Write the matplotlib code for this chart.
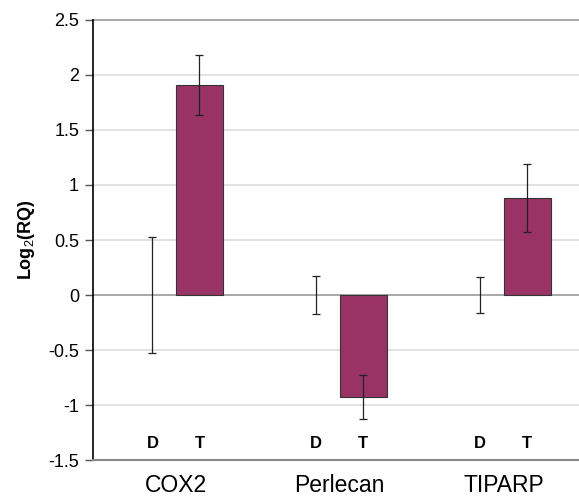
import numpy as np
import matplotlib
matplotlib.use("Agg")
import matplotlib.pyplot as plt

# ------------------------
# Datos
# ------------------------
genes = ["COX2", "Perlecan", "TIPARP"]
valores_d = [0.0, 0.0, 0.0]
errores_d = [0.53, 0.17, 0.16]
valores_t = [1.91, -0.93, 0.88]
errores_t = [0.27, 0.20, 0.31]
etiquetas_grupo = ["D", "T"]

yticks = [2.5, 2, 1.5, 1, 0.5, 0, -0.5, -1, -1.5]
ytick_labels = ["2.5", "2", "1.5", "1", "0.5", "0", "-0.5", "-1", "-1.5"]

ANCHO = 0.287
COLOR_BARRA = "#993366"

plt.rcParams['font.family'] = ['Liberation Sans', 'DejaVu Sans']
plt.rcParams['mathtext.fontset'] = 'custom'
plt.rcParams['mathtext.rm'] = 'Liberation Sans'
plt.rcParams['mathtext.bf'] = 'Liberation Sans:bold'

fig = plt.figure(figsize=(5.79, 4.97), dpi=100)
ax = fig.add_axes([0.1606, 0.0744, 0.8394, 0.8854])

x = np.arange(len(genes))
x_d = x - ANCHO / 2
x_t = x + ANCHO / 2

# rejilla
for y in yticks:
    if y in (0, 2.5):
        continue
    ax.axhline(y, color="#dddddd", lw=1.2, zorder=0)
ax.axhline(0, color="#999999", lw=1.2, zorder=1)
ax.axhline(2.5, color="#999999", lw=1.2, zorder=1, clip_on=False)

# barras D (altura cero, sin borde) y T
ax.bar(x_d, valores_d, width=ANCHO, color=COLOR_BARRA, lw=0, zorder=2)
ax.bar(x_t, valores_t, width=ANCHO, color=COLOR_BARRA, edgecolor="#333333", lw=0.8, zorder=2)
ax.errorbar(x_d, valores_d, yerr=errores_d, fmt="none", ecolor="#222222",
            elinewidth=0.9, capsize=3, capthick=0.9, zorder=3)
ax.errorbar(x_t, valores_t, yerr=errores_t, fmt="none", ecolor="#222222",
            elinewidth=0.9, capsize=3, capthick=0.9, zorder=3)

# etiquetas D / T
for i in range(len(genes)):
    ax.text(x_d[i], -1.35, etiquetas_grupo[0], ha="center", va="center",
            fontsize=12, fontweight="bold")
    ax.text(x_t[i], -1.35, etiquetas_grupo[1], ha="center", va="center",
            fontsize=12, fontweight="bold")

ax.set_xlim(-0.506, 2.46)
ax.set_ylim(-1.5, 2.5)
ax.set_yticks(yticks)
ax.set_yticklabels(ytick_labels, fontsize=13)
ax.set_xticks(x)
ax.set_xticklabels(genes, fontsize=16.5)
ax.tick_params(axis="x", length=0, pad=10)
ax.tick_params(axis="y", length=6, width=1, color="#555555", pad=4)

for lado in ["top", "right"]:
    ax.spines[lado].set_visible(False)
ax.spines["left"].set_color("black")
ax.spines["left"].set_linewidth(1.2)
ax.spines["bottom"].set_color("#888888")
ax.spines["bottom"].set_linewidth(1.5)

ax.set_ylabel(r"$\mathbf{Log}_{2}\mathbf{(RQ)}$", fontsize=13)
ax.yaxis.set_label_coords(-0.115, 0.5)

fig.savefig("out.png", dpi=100)
